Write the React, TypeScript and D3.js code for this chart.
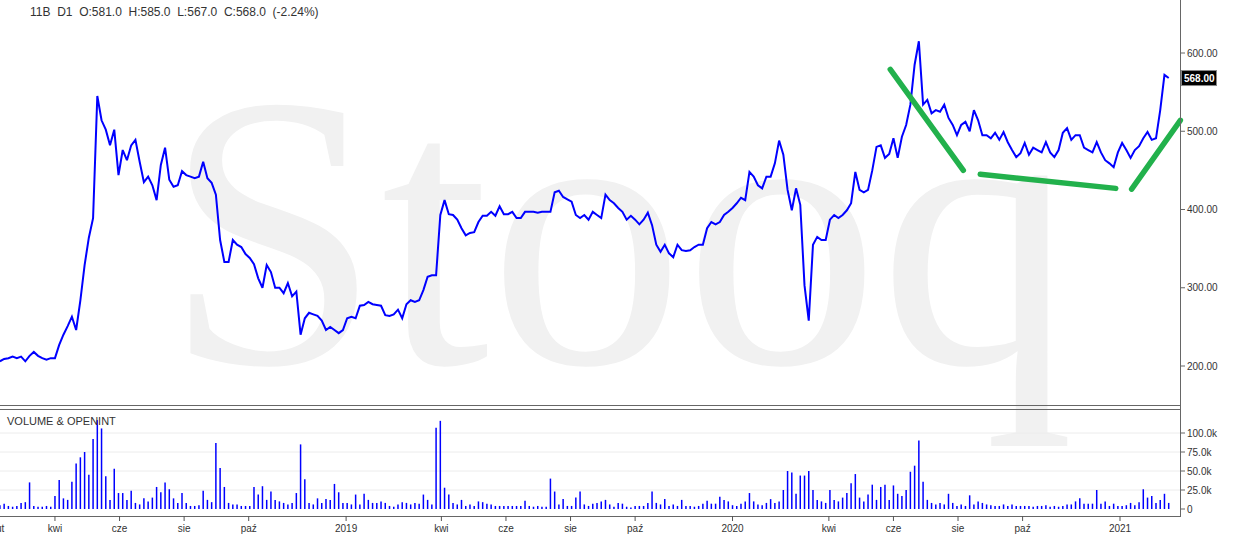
import { useEffect, useRef } from 'react'
import * as d3 from 'd3'

// closing prices, one bar every 4 calendar days starting 2018-02-08
const closes = [
  206, 209, 210, 212, 210, 212, 206, 213, 218, 213,
  210, 208, 210, 210, 227, 240, 251, 263, 246, 284,
  329, 364, 389, 545, 514, 502, 482, 502, 444, 476,
  463, 482, 489, 461, 435, 442, 431, 412, 457, 479,
  438, 429, 431, 449, 444, 442, 440, 442, 461, 440,
  434, 419, 361, 333, 333, 361, 355, 352, 343, 338,
  330, 312, 300, 329, 320, 300, 300, 293, 306, 289,
  295, 240, 261, 268, 266, 264, 258, 246, 250, 246,
  242, 246, 261, 263, 261, 277, 278, 282, 279, 278,
  277, 265, 264, 266, 272, 261, 279, 284, 282, 284,
  297, 314, 316, 316, 393, 412, 394, 393, 387, 376,
  367, 370, 371, 384, 392, 392, 397, 392, 404, 394,
  394, 397, 389, 389, 397, 397, 397, 396, 397, 397,
  397, 422, 424, 416, 413, 410, 393, 389, 393, 387,
  397, 393, 389, 419, 412, 408, 402, 397, 387, 392,
  387, 381, 387, 396, 380, 355, 346, 355, 344, 339,
  355, 348, 347, 348, 352, 355, 355, 376, 384, 381,
  384, 393, 397, 402, 408, 415, 412, 448, 442, 431,
  427, 442, 442, 459, 488, 470, 425, 399, 427, 406,
  303, 258, 355, 365, 361, 361, 387, 393, 389, 393,
  399, 408, 448, 425, 422, 425, 450, 480, 482, 466,
  471, 491, 466, 493, 508, 534, 585, 615, 534, 540,
  523, 527, 525, 534, 517, 508, 495, 508, 512, 500,
  527, 514, 495, 495, 491, 498, 489, 499, 486, 476,
  467, 472, 485, 470, 479, 476, 473, 486, 473, 467,
  476, 498, 504, 489, 495, 495, 479, 476, 473, 486,
  473, 463, 459, 454, 473, 485, 476, 466, 476, 481,
  491, 499, 489, 491, 527, 572, 568,
]

// volume in thousands, same bars
const volumesK = [
  5, 7, 4, 3, 4, 8, 9, 35, 4, 3,
  3, 4, 3, 17, 38, 14, 12, 36, 60, 68,
  75, 45, 92, 117, 106, 43, 12, 53, 21, 21,
  12, 24, 8, 6, 14, 10, 15, 29, 22, 35,
  26, 14, 8, 21, 8, 4, 4, 5, 24, 12,
  9, 87, 54, 29, 8, 6, 6, 4, 4, 4,
  29, 19, 30, 12, 23, 12, 10, 8, 6, 8,
  21, 85, 39, 8, 6, 14, 8, 13, 12, 33,
  22, 8, 8, 6, 19, 6, 20, 12, 8, 8,
  10, 8, 4, 3, 6, 9, 8, 6, 8, 7,
  19, 12, 6, 107, 116, 28, 19, 8, 6, 12,
  4, 6, 4, 10, 9, 7, 6, 4, 4, 4,
  4, 4, 4, 4, 11, 4, 3, 4, 3, 3,
  40, 23, 6, 13, 4, 4, 15, 23, 6, 4,
  7, 8, 10, 12, 6, 3, 8, 7, 3, 2,
  4, 4, 4, 8, 23, 8, 6, 13, 4, 6,
  4, 12, 4, 4, 3, 4, 7, 11, 7, 7,
  16, 12, 10, 5, 4, 7, 10, 21, 10, 6,
  5, 8, 13, 8, 10, 25, 50, 48, 20, 44,
  44, 50, 25, 12, 10, 8, 25, 12, 10, 15,
  21, 34, 46, 15, 10, 19, 32, 12, 29, 32,
  12, 31, 20, 17, 25, 49, 57, 90, 36, 12,
  8, 6, 8, 6, 20, 8, 4, 6, 4, 18,
  6, 10, 8, 6, 5, 4, 4, 6, 4, 6,
  4, 4, 4, 4, 3, 4, 4, 5, 3, 4,
  3, 4, 6, 6, 10, 14, 7, 7, 7, 25,
  7, 10, 4, 7, 4, 4, 5, 8, 5, 9,
  26, 15, 17, 8, 12, 20, 8,
]

const firstBar = new Date(2018, 1, 8)
const barStepDays = 4

const priceTicks = [200, 300, 400, 500, 600]
const volumeTicks = [0, 25, 50, 75, 100]

const monthTicks = [
  new Date(2018, 1, 1), new Date(2018, 3, 1), new Date(2018, 5, 1), new Date(2018, 7, 1), new Date(2018, 9, 1),
  new Date(2019, 0, 1), new Date(2019, 3, 1), new Date(2019, 5, 1), new Date(2019, 7, 1), new Date(2019, 9, 1),
  new Date(2020, 0, 1), new Date(2020, 3, 1), new Date(2020, 5, 1), new Date(2020, 7, 1), new Date(2020, 9, 1),
  new Date(2021, 0, 1),
]
const monthLabels = ['lut', 'kwi', 'cze', 'sie', 'paź', '2019', 'kwi', 'cze', 'sie', 'paź', '2020', 'kwi', 'cze', 'sie', 'paź', '2021']

// hand drawn green trend lines: [date, price] ends
const trendLines: [Date, number][][] = [
  [[new Date(2020, 4, 29), 579], [new Date(2020, 7, 6), 450]],
  [[new Date(2020, 7, 22), 445], [new Date(2020, 11, 28), 427]],
  [[new Date(2021, 0, 12), 426], [new Date(2021, 1, 27), 514]],
]

const header = '11B  D1  O:581.0  H:585.0  L:567.0  C:568.0  (-2.24%)'
const lastClose = 568

const SANS = '"Liberation Sans", Arial, sans-serif'

export default function App() {
  const svgRef = useRef<SVGSVGElement>(null)

  useEffect(() => {
    if (!svgRef.current) return
    const svg = d3.select(svgRef.current)
    svg.selectAll('*').remove()

    const axisX = 1180
    const x = d3.scaleTime().domain([new Date(2018, 1, 1), new Date(2021, 0, 1)]).range([-7.5, 1120])
    const y = d3.scaleLinear().domain([200, 600]).range([366, 53])
    const yv = d3.scaleLinear().domain([0, 100]).range([509, 433])
    const dates = closes.map((_, i) => d3.timeDay.offset(firstBar, i * barStepDays))

    svg.append('rect').attr('width', 1239).attr('height', 545).attr('fill', '#fff')

    // watermark
    svg.append('text')
      .attr('x', 164).attr('y', 363)
      .style('font-family', '"Liberation Serif", "Times New Roman", serif')
      .style('font-size', '390px')
      .attr('fill', '#f1f1f1')
      .text('Stooq')

    // volume grid
    volumeTicks.filter(v => v > 0).forEach(v => {
      svg.append('line')
        .attr('x1', 0).attr('x2', axisX)
        .attr('y1', yv(v)).attr('y2', yv(v))
        .attr('stroke', '#ececec').attr('stroke-width', 1)
    })

    // pane separator
    ;[405.5, 409.5].forEach(yy => {
      svg.append('line')
        .attr('x1', 0).attr('x2', axisX)
        .attr('y1', yy).attr('y2', yy)
        .attr('stroke', '#666').attr('stroke-width', 1)
    })

    // price line
    const line = d3.line<number>()
      .x((_, i) => x(dates[i]))
      .y(d => y(d))
    svg.append('path')
      .datum(closes)
      .attr('d', line)
      .attr('fill', 'none')
      .attr('stroke', '#0000ff')
      .attr('stroke-width', 2)
      .attr('stroke-linejoin', 'miter')
      .attr('stroke-miterlimit', 3)

    // volume bars
    volumesK.forEach((v, i) => {
      const xx = x(dates[i])
      svg.append('line')
        .attr('x1', xx).attr('x2', xx)
        .attr('y1', yv(0)).attr('y2', yv(v))
        .attr('stroke', '#0000ff').attr('stroke-width', 1.5)
    })

    // trend lines
    trendLines.forEach(seg => {
      svg.append('line')
        .attr('x1', x(seg[0][0])).attr('y1', y(seg[0][1]))
        .attr('x2', x(seg[1][0])).attr('y2', y(seg[1][1]))
        .attr('stroke', '#22b14c').attr('stroke-width', 5.5)
        .attr('stroke-linecap', 'round')
    })

    // right axis
    svg.append('line')
      .attr('x1', axisX + 0.5).attr('x2', axisX + 0.5)
      .attr('y1', 0).attr('y2', 517)
      .attr('stroke', '#666')
    priceTicks.forEach(p => {
      svg.append('line')
        .attr('x1', axisX).attr('x2', axisX + 5)
        .attr('y1', y(p)).attr('y2', y(p))
        .attr('stroke', '#666')
      svg.append('text')
        .attr('x', axisX + 7).attr('y', y(p))
        .attr('dominant-baseline', 'central')
        .style('font-family', SANS).style('font-size', '10px')
        .attr('fill', '#333')
        .text(p.toFixed(2))
    })
    volumeTicks.forEach(v => {
      svg.append('line')
        .attr('x1', axisX).attr('x2', axisX + 5)
        .attr('y1', yv(v)).attr('y2', yv(v))
        .attr('stroke', '#666')
      svg.append('text')
        .attr('x', axisX + 7).attr('y', yv(v))
        .attr('dominant-baseline', 'central')
        .style('font-family', SANS).style('font-size', '10px')
        .attr('fill', '#333')
        .text(v === 0 ? '0' : `${v.toFixed(1)}k`)
    })

    // last price marker
    svg.append('rect')
      .attr('x', axisX + 1.5).attr('y', y(lastClose) - 7.5)
      .attr('width', 35).attr('height', 15)
      .attr('fill', '#000').attr('stroke', '#888')
    svg.append('text')
      .attr('x', axisX + 4).attr('y', y(lastClose))
      .attr('dominant-baseline', 'central')
      .style('font-family', SANS).style('font-size', '10px').style('font-weight', '700')
      .attr('fill', '#fff')
      .text(lastClose.toFixed(2))

    // bottom time axis
    svg.append('line')
      .attr('x1', 0).attr('x2', axisX + 0.5)
      .attr('y1', 516.5).attr('y2', 516.5)
      .attr('stroke', '#666')
    monthTicks.forEach((d, i) => {
      const xx = x(d)
      svg.append('line')
        .attr('x1', xx).attr('x2', xx)
        .attr('y1', 516).attr('y2', 521)
        .attr('stroke', '#555')
      svg.append('text')
        .attr('x', Math.max(xx, -1)).attr('y', 528)
        .attr('text-anchor', 'middle').attr('dominant-baseline', 'central')
        .style('font-family', SANS).style('font-size', '10px')
        .attr('fill', '#333')
        .text(monthLabels[i])
    })

    // titles
    svg.append('text')
      .attr('x', 30).attr('y', 12)
      .attr('dominant-baseline', 'central')
      .style('font-family', SANS).style('font-size', '12px').style('white-space', 'pre')
      .attr('fill', '#333')
      .text(header)
    svg.append('text')
      .attr('x', 7).attr('y', 421)
      .attr('dominant-baseline', 'central')
      .style('font-family', SANS).style('font-size', '11px')
      .attr('fill', '#333')
      .text('VOLUME & OPENINT')
  }, [])

  return (
    <div style={{ position: 'absolute', left: 0, top: 0 }}>
      <svg ref={svgRef} width={1239} height={545} style={{ display: 'block' }} />
    </div>
  )
}
